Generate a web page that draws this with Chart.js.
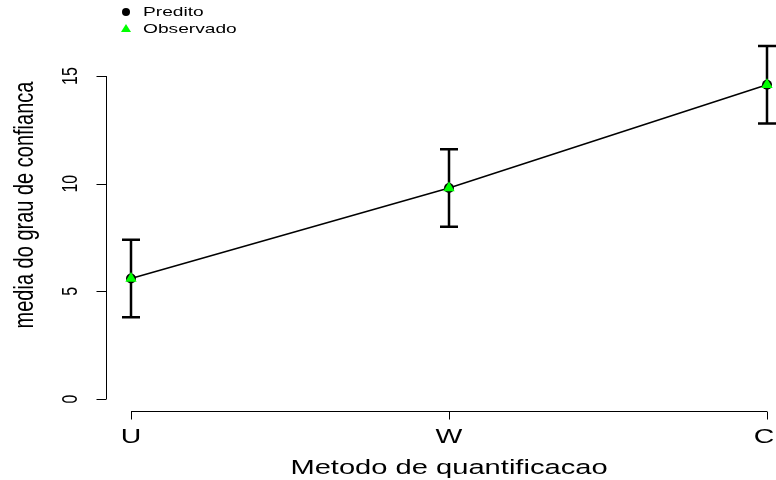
<!DOCTYPE html>
<html>
<head>
<meta charset="utf-8">
<script src="https://cdn.jsdelivr.net/npm/chart.js@4"></script>
<style>
  html, body { margin: 0; background: #fff; }
</style>
</head>
<body>
<canvas id="chart" width="776" height="480"></canvas>
<script>
// data
const categories = ['U', 'W', 'C'];
const predito = [5.6, 9.8, 14.6];
const observado = [5.6, 9.8, 14.6];
const lower = [3.8, 8.0, 12.8];
const upper = [7.4, 11.6, 16.4];
const yTicks = [0, 5, 10, 15];
const xTitle = 'Metodo de quantificacao';
const yTitle = 'media do grau de confianca';

const FONT = '"Liberation Sans", Arial, sans-serif';
const SX = 1.42; // the reference text is stretched sideways

function drawText(ctx, txt, x, y, size, rotate, align) {
  ctx.save();
  ctx.translate(x, y);
  ctx.scale(SX, 1);
  if (rotate) ctx.rotate(-Math.PI / 2);
  ctx.font = size + 'px ' + FONT;
  ctx.fillStyle = '#000';
  ctx.textAlign = align || 'center';
  ctx.textBaseline = 'middle';
  ctx.fillText(txt, 0, 0);
  ctx.restore();
}

// error bars under the points
const errorBars = {
  id: 'errorBars',
  beforeDatasetsDraw(chart) {
    const { ctx, scales: { x, y } } = chart;
    ctx.save();
    ctx.strokeStyle = '#000';
    ctx.lineWidth = 2.5;
    categories.forEach((c, i) => {
      const px = x.getPixelForValue(i);
      const lo = y.getPixelForValue(lower[i]);
      const hi = y.getPixelForValue(upper[i]);
      ctx.beginPath();
      ctx.moveTo(px, lo); ctx.lineTo(px, hi);
      ctx.moveTo(px - 9, lo); ctx.lineTo(px + 9, lo);
      ctx.moveTo(px - 9, hi); ctx.lineTo(px + 9, hi);
      ctx.stroke();
    });
    ctx.restore();
  }
};

// R-style axes, titles and legend
const rAxes = {
  id: 'rAxes',
  afterDraw(chart) {
    const { ctx, scales: { x, y } } = chart;
    ctx.save();
    ctx.strokeStyle = '#000';
    ctx.lineWidth = 1;

    // y axis
    const ax = 106.5;
    ctx.beginPath();
    ctx.moveTo(ax, y.getPixelForValue(yTicks[0]));
    ctx.lineTo(ax, y.getPixelForValue(yTicks[yTicks.length - 1]));
    yTicks.forEach(t => {
      const py = Math.round(y.getPixelForValue(t)) + 0.5;
      ctx.moveTo(ax, py); ctx.lineTo(ax - 10, py);
    });
    ctx.stroke();
    yTicks.forEach(t => drawText(ctx, String(t), 71, y.getPixelForValue(t), 16, true));

    // x axis
    const ay = 411.5;
    ctx.beginPath();
    ctx.moveTo(x.getPixelForValue(0), ay);
    ctx.lineTo(x.getPixelForValue(categories.length - 1), ay);
    categories.forEach((c, i) => {
      const px = Math.round(x.getPixelForValue(i)) + 0.5;
      ctx.moveTo(px, ay); ctx.lineTo(px, ay + 8);
    });
    ctx.stroke();
    categories.forEach((c, i) => drawText(ctx, c, Math.min(x.getPixelForValue(i), 764), 437, 20));

    // titles
    drawText(ctx, xTitle, 449, 468, 20.5);
    drawText(ctx, yTitle, 25, 205, 20, true);

    // legend
    ctx.fillStyle = '#000';
    ctx.beginPath();
    ctx.arc(126, 12, 4, 0, Math.PI * 2);
    ctx.fill();
    ctx.fillStyle = '#00ff00';
    ctx.beginPath();
    ctx.moveTo(126, 24); ctx.lineTo(131, 32); ctx.lineTo(121, 32);
    ctx.closePath();
    ctx.fill();
    drawText(ctx, 'Predito', 143, 12, 13.5, false, 'left');
    drawText(ctx, 'Observado', 143, 29, 13.5, false, 'left');
    ctx.restore();
  }
};

new Chart(document.getElementById('chart'), {
  type: 'line',
  data: {
    labels: categories,
    datasets: [
      {
        label: 'Observado',
        data: observado,
        showLine: false,
        pointStyle: 'triangle',
        pointRadius: 6.5,
        pointBackgroundColor: '#00ff00',
        pointBorderColor: '#00ff00',
        pointBorderWidth: 0,
        order: 0
      },
      {
        label: 'Predito',
        data: predito,
        borderColor: '#000',
        borderWidth: 1.5,
        tension: 0,
        pointStyle: 'circle',
        pointRadius: 5,
        pointBackgroundColor: '#000',
        pointBorderColor: '#000',
        pointBorderWidth: 0,
        order: 1
      }
    ]
  },
  options: {
    responsive: false,
    animation: false,
    clip: false,
    layout: { padding: { left: 131, right: 9, top: 33, bottom: 81 } },
    scales: {
      x: { type: 'category', offset: false, display: false },
      y: { min: 0, max: 17, display: false }
    },
    plugins: {
      legend: { display: false },
      tooltip: { enabled: false }
    }
  },
  plugins: [errorBars, rAxes]
});
</script>
</body>
</html>
